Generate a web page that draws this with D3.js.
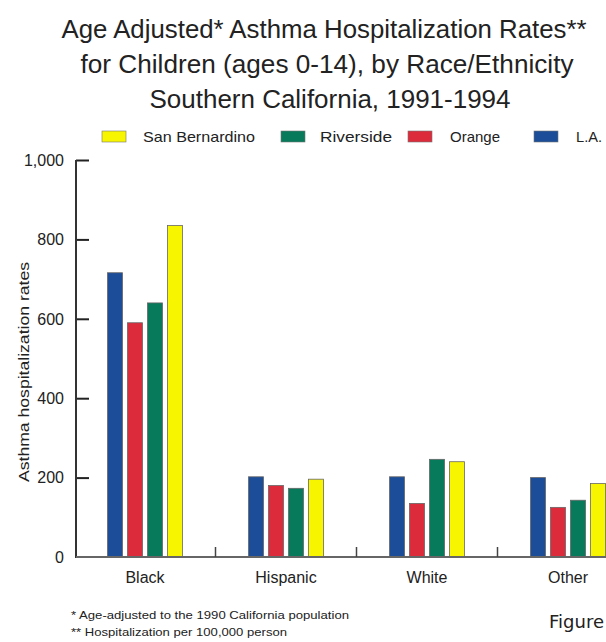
<!DOCTYPE html>
<html>
<head>
<meta charset="utf-8">
<script src="https://cdn.jsdelivr.net/npm/d3@7"></script>
<style>
  html, body { margin: 0; padding: 0; background: #fff; }
  svg { display: block; }
  text { font-family: "Liberation Sans", Arial, Helvetica, sans-serif; fill: #222; }
</style>
</head>
<body>
<svg id="chart" width="606" height="642"></svg>
<script>
// Asthma hospitalization rates per 100,000 children, by race/ethnicity and county
const categories = ["Black", "Hispanic", "White", "Other"];
const seriesNames = ["L.A.", "Orange", "Riverside", "San Bernardino"];
const laValues = [716, 202, 202, 200];
const orangeValues = [590, 180, 135, 125];
const riversideValues = [640, 173, 246, 143];
const sanBernardinoValues = [835, 196, 240, 185];
const yTicks = [0, 200, 400, 600, 800, 1000];
const titleLines = [
  "Age Adjusted* Asthma Hospitalization Rates**",
  "for Children (ages 0-14), by Race/Ethnicity",
  "Southern California, 1991-1994"
];
const legendOrder = ["San Bernardino", "Riverside", "Orange", "L.A."];
const footnotes = [
  "* Age-adjusted to the 1990 California population",
  "** Hospitalization per 100,000 person"
];

const seriesValues = [laValues, orangeValues, riversideValues, sanBernardinoValues];
const colors = { "L.A.": "#1b4d98", "Orange": "#dc2b3b", "Riverside": "#067a5b", "San Bernardino": "#f8f500" };

const svg = d3.select("#chart");

// Scales: the group band runs past the right edge of the canvas, so the last group is clipped
const x = d3.scaleBand().domain(categories).range([74.5, 638.5]).paddingInner(0).paddingOuter(0);
const xInner = d3.scaleBand().domain(seriesNames).range([0, x.bandwidth()])
  .paddingInner(0.25).paddingOuter(1.65);
const y = d3.scaleLinear().domain([0, 1000]).range([557, 160]);

// Title, set in a condensed face
const titleLayout = [
  { x: 324, y: 38, len: 525 },
  { x: 327, y: 73, len: 493 },
  { x: 330, y: 108, len: 361 }
];
svg.append("g").selectAll("text").data(titleLines).join("text")
  .attr("x", (d, i) => titleLayout[i].x)
  .attr("y", (d, i) => titleLayout[i].y)
  .attr("text-anchor", "middle")
  .attr("font-size", 26)
  .attr("textLength", (d, i) => titleLayout[i].len)
  .attr("lengthAdjust", "spacingAndGlyphs")
  .text(d => d);

// Legend
const legendX = [102, 281, 408, 534];
const legendTextLen = [112, 72, 50, 26];
const legend = svg.append("g").selectAll("g").data(legendOrder).join("g")
  .attr("transform", (d, i) => `translate(${legendX[i]},131)`);
legend.append("rect")
  .attr("width", 24).attr("height", 11)
  .attr("fill", d => colors[d])
  .attr("stroke", "#777").attr("stroke-width", 0.6);
legend.append("text")
  .attr("x", (d, i) => i === 0 ? 41 : (i === 1 ? 39 : 42))
  .attr("y", 11)
  .attr("font-size", 15)
  .attr("textLength", (d, i) => legendTextLen[i])
  .attr("lengthAdjust", "spacingAndGlyphs")
  .text(d => d);

// Bars
const groups = svg.append("g").selectAll("g").data(categories).join("g")
  .attr("transform", d => `translate(${x(d)},0)`);
groups.selectAll("rect")
  .data((c, ci) => seriesNames.map((s, si) => ({ series: s, value: seriesValues[si][ci] })))
  .join("rect")
  .attr("x", d => xInner(d.series))
  .attr("y", d => y(d.value))
  .attr("width", xInner.bandwidth())
  .attr("height", d => y(0) - y(d.value))
  .attr("fill", d => colors[d.series])
  .attr("stroke", "#666")
  .attr("stroke-width", 0.8);

// Y axis with inward ticks
const yAxis = svg.append("g")
  .attr("transform", "translate(76,0)")
  .call(d3.axisRight(y).tickValues(yTicks.filter(v => v > 0)).tickSize(13).tickFormat(""));
yAxis.select(".domain").remove();
yAxis.selectAll(".tick line").attr("stroke", "#222").attr("stroke-width", 2);
svg.append("line")
  .attr("x1", 76).attr("x2", 76).attr("y1", y(1000)).attr("y2", y(0) + 1)
  .attr("stroke", "#333").attr("stroke-width", 2);

// Y tick labels
svg.append("g").selectAll("text").data(yTicks).join("text")
  .attr("x", 64)
  .attr("y", d => y(d))
  .attr("dy", "0.36em")
  .attr("text-anchor", "end")
  .attr("font-size", 16)
  .text(d => d3.format(",")(d));

// X axis baseline with group separators
svg.append("line")
  .attr("x1", 76).attr("x2", 640).attr("y1", y(0)).attr("y2", y(0))
  .attr("stroke", "#666").attr("stroke-width", 2);
svg.append("g").selectAll("line").data(categories.slice(1)).join("line")
  .attr("x1", d => x(d)).attr("x2", d => x(d))
  .attr("y1", y(0) - 10).attr("y2", y(0))
  .attr("stroke", "#444").attr("stroke-width", 1.5);

// Category labels
svg.append("g").selectAll("text").data(categories).join("text")
  .attr("x", d => x(d) + x.bandwidth() / 2)
  .attr("y", 583)
  .attr("text-anchor", "middle")
  .attr("font-size", 16)
  .text(d => d);

// Y axis title
svg.append("text")
  .attr("transform", "translate(29,372) rotate(-90)")
  .attr("text-anchor", "middle")
  .attr("font-size", 15)
  .attr("textLength", 220)
  .attr("lengthAdjust", "spacingAndGlyphs")
  .text("Asthma hospitalization rates");

// Footnotes
const footLayout = [{ y: 619, len: 278 }, { y: 636, len: 216 }];
svg.append("g").selectAll("text").data(footnotes).join("text")
  .attr("x", 71)
  .attr("y", (d, i) => footLayout[i].y)
  .attr("font-size", 11)
  .attr("fill", "#333")
  .attr("textLength", (d, i) => footLayout[i].len)
  .attr("lengthAdjust", "spacingAndGlyphs")
  .text(d => d);

// Figure caption running off the right edge
svg.append("text")
  .attr("x", 549)
  .attr("y", 628)
  .attr("font-size", 18)
  .style("font-family", "'DejaVu Sans', Verdana, sans-serif")
  .text("Figure");
</script>
</body>
</html>
